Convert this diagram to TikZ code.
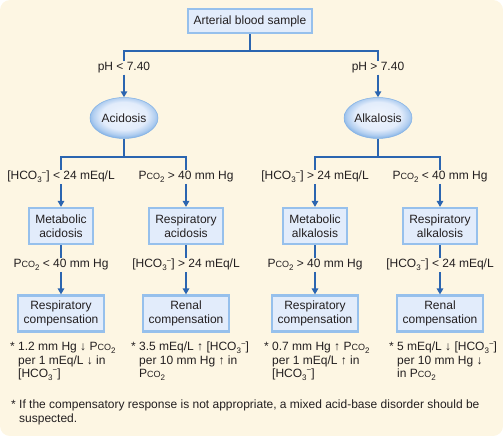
\documentclass[tikz,border=0pt]{standalone}
\usepackage{fontspec}
\setmainfont{Liberation Sans}
\usetikzlibrary{arrows.meta,shapes.geometric}

\definecolor{bgcream}{RGB}{253,246,227}
\definecolor{treeblue}{RGB}{43,101,176}
\definecolor{boxfill}{RGB}{226,236,251}
\definecolor{boxedge}{RGB}{150,192,236}
\definecolor{ovaledge}{RGB}{128,176,229}
\definecolor{inktext}{RGB}{35,31,32}

% Light centre, blue rim for the two ovals.
\pgfdeclareradialshading{ovalglow}{\pgfpoint{0bp}{4bp}}{%
  color(0bp)=(boxfill!50!white); color(17bp)=(boxfill);
  color(23bp)=(ovaledge!50!boxfill); color(27bp)=(ovaledge); color(50bp)=(ovaledge)}

% Partial pressure and bicarbonate, as the figure prints them.
\newcommand{\pco}{P{\fontsize{9}{9}\selectfont CO}\raisebox{-.45ex}{\fontsize{8}{8}\selectfont 2}}
\newcommand{\hco}{[HCO\raisebox{-.45ex}{\fontsize{8}{8}\selectfont 3}\raisebox{.75ex}{\fontsize{8}{8}\selectfont −}]}

\tikzset{
  txt/.style={font=\fontsize{12}{13.5}\selectfont, text=inktext, inner sep=1pt},
  bluebox/.style={txt, draw=boxedge, line width=2.2pt, fill=boxfill, align=center,
    inner xsep=6pt, minimum height=36pt},
  oval/.style={txt, ellipse, shading=ovalglow, draw=ovaledge, line width=0.5pt,
    minimum width=68pt, minimum height=41pt, inner sep=0pt},
  note/.style={txt, align=left, anchor=north west, inner sep=0pt},
  tree/.style={draw=treeblue, line width=1.6pt},
  flow/.style={tree, -{Triangle[length=6pt,width=6.5pt]}},
}

\begin{document}
\begin{tikzpicture}[x=1pt,y=-1pt]
  % The card behind everything.
  \fill[bgcream, rounded corners=10pt] (0,0) rectangle (503,436);
  \useasboundingbox (0,0) rectangle (503,436);

  % The sample and the pH split.
  \node[bluebox, minimum height=24pt] (sample) at (250,21) {Arterial blood sample};
  \node[txt] (phlow) at (124,68) {pH < 7.40};
  \node[txt] (phhigh) at (378,68) {pH > 7.40};
  \coordinate (phsplit) at (250,51);
  \draw[tree] (sample.south) -- (phsplit);
  \draw[tree] (phlow.north) |- (phsplit) -| (phhigh.north);

  \node[oval] (acid) at (124,118) {Acidosis};
  \node[oval] (alk) at (378,118) {Alkalosis};
  \draw[flow] (phlow) -- (acid);
  \draw[flow] (phhigh) -- (alk);

  % The four columns: condition, disorder, check, compensation.
  \foreach \n/\x/\lab/\kind/\chk/\cmp in {
      1/61/{\hco\ < 24 mEq/L}/{Metabolic\\acidosis}/{\pco\ < 40 mm Hg}/Respiratory,
      2/186/{\pco\ > 40 mm Hg}/{Respiratory\\acidosis}/{\hco\ > 24 mEq/L}/Renal,
      3/315/{\hco\ > 24 mEq/L}/{Metabolic\\alkalosis}/{\pco\ > 40 mm Hg}/Respiratory,
      4/440/{\pco\ < 40 mm Hg}/{Respiratory\\alkalosis}/{\hco\ < 24 mEq/L}/Renal}
  {
    \node[txt] (cond\n) at (\x,177) {\lab};
    \node[bluebox] (kind\n) at (\x,226) {\kind};
    \node[txt] (check\n) at (\x,265) {\chk};
    \node[bluebox] (comp\n) at (\x,313.5) {\cmp\\compensation};
    \draw[flow] (cond\n) -- (kind\n);
    \draw[tree] (kind\n) -- (check\n);
    \draw[flow] (check\n) -- (comp\n);
  }

  % Split under each oval.
  \coordinate (acidsplit) at (124,157);
  \coordinate (alksplit) at (378,157);
  \draw[tree] (acid.south) -- (acidsplit);
  \draw[tree] (alk.south) -- (alksplit);
  \draw[tree] (cond1.north) |- (acidsplit) -| (cond2.north);
  \draw[tree] (cond3.north) |- (alksplit) -| (cond4.north);

  % Expected compensation, one note per column.
  \node[note] (note1) at (18,342) {\llap{*\ }1.2 mm Hg ↓ \pco\\per 1 mEq/L ↓ in\\\hco};
  \node[note] (note2) at (139,342) {\llap{*\ }3.5 mEq/L ↑ \hco\\per 10 mm Hg ↑ in\\\pco};
  \node[note] (note3) at (272,342) {\llap{*\ }0.7 mm Hg ↑ \pco\\per 1 mEq/L ↑ in\\\hco};
  \node[note] (note4) at (397,342) {\llap{*\ }5 mEq/L ↓ \hco\\per 10 mm Hg ↓\\in \pco};

  % The footnote.
  \node[note] (footnote) at (19,400) {\llap{*\ }If the compensatory response is not appropriate, a mixed acid-base disorder should be\\suspected.};
\end{tikzpicture}
\end{document}
